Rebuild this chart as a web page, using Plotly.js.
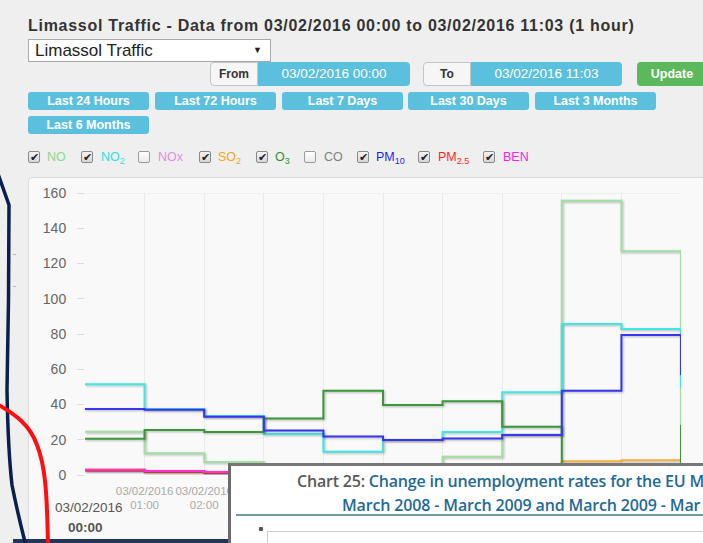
<!DOCTYPE html>
<html><head><meta charset="utf-8">
<script src="https://cdn.plot.ly/plotly-3.0.1.min.js"></script>
<style>
html,body{margin:0;padding:0;}
body{width:703px;height:543px;overflow:hidden;background:#efefef;position:relative;font-family:"Liberation Sans",Arial,sans-serif;}
.abs{position:absolute;box-sizing:border-box;}
#title{left:28px;top:16px;font-size:16px;line-height:20px;font-weight:bold;color:#333;letter-spacing:0.72px;white-space:nowrap;}
#sel{left:28px;top:39px;width:243px;height:23px;background:#fff;border:1px solid #a9a9a9;font-size:17px;line-height:21px;padding-left:6px;color:#222;}
#sel .arr{position:absolute;right:8px;top:0;font-size:9px;color:#222;}
.lbtn{background:#f6f6f6;border:1px solid #c4c4c4;border-radius:4px 0 0 4px;font-weight:bold;font-size:12px;color:#333;text-align:center;line-height:22px;height:24px;top:62px;}
.dfield{background:#5bc0de;border-radius:0 4px 4px 0;color:#fff;font-size:13.5px;text-align:center;line-height:24px;height:24px;top:62px;}
#upd{left:637px;top:62px;width:70px;height:24px;background:#5cb85c;border-radius:4px;color:#fff;font-weight:bold;font-size:12.5px;text-align:center;line-height:24px;}
.rbtn{background:#5bc0de;border-radius:3px;color:#fff;font-weight:bold;font-size:12.5px;text-align:center;line-height:18px;height:18px;width:121px;}
.cb{top:151px;width:12px;height:12px;border:1px solid #8a8a8a;border-radius:2px;background:linear-gradient(#f4f4f4,#d6d6d6);font-size:11px;line-height:11px;text-align:center;color:#222;}
.cb.un{background:linear-gradient(#fff,#eaeaea);border-color:#9a9a9a;}
.lab{top:150px;font-size:12.5px;line-height:14px;white-space:nowrap;}
.lab sub{font-size:9px;vertical-align:-3px;line-height:0;}
#panel{left:28px;top:177px;width:690px;height:400px;background:#f9f9f9;border:1px solid #dcdcdc;border-radius:4px;}
#chart{left:28px;top:178px;width:675px;height:365px;}
#chart .scatterlayer path.js-line{filter:drop-shadow(1px 1px 1px rgba(0,0,0,0.28));}
#ov{left:0;top:0;z-index:5;pointer-events:none;}
#inset{left:228px;top:463px;width:490px;height:90px;background:#fff;border-left:3px solid #6b6b6b;border-top:3px solid #777;z-index:6;overflow:hidden;font-family:"Open Sans",sans-serif;font-weight:600;font-size:16px;white-space:nowrap;}
#inset .l1{position:absolute;left:66px;top:4px;color:#1f6a98;letter-spacing:-0.2px;}
#inset .l1 span{color:#595959;}
#inset .l2{position:absolute;left:111px;top:28px;color:#1f6a98;letter-spacing:-0.15px;}
#inset .hr{position:absolute;left:5px;right:0;top:48px;height:2px;background:#6f97aa;}
#inset .mk{position:absolute;left:28px;top:61px;width:4px;height:4px;background:#555;border-radius:1px;}
#inset .bx{position:absolute;left:36px;top:65px;width:600px;height:60px;border-left:1px solid #cfcfcf;border-top:1px solid #cfcfcf;}
</style></head>
<body>
<div class="abs" id="title">Limassol Traffic - Data from 03/02/2016 00:00 to 03/02/2016 11:03 (1 hour)</div>
<div class="abs" id="sel">Limassol Traffic<span class="arr">&#9660;</span></div>
<div class="abs lbtn" style="left:210px;width:48px;">From</div>
<div class="abs dfield" style="left:258px;width:152px;">03/02/2016 00:00</div>
<div class="abs lbtn" style="left:423px;width:48px;">To</div>
<div class="abs dfield" style="left:471px;width:151px;">03/02/2016 11:03</div>
<div class="abs" id="upd">Update</div>
<div class="abs rbtn" style="left:28px;top:92px;">Last 24 Hours</div>
<div class="abs rbtn" style="left:155px;top:92px;">Last 72 Hours</div>
<div class="abs rbtn" style="left:282px;top:92px;">Last 7 Days</div>
<div class="abs rbtn" style="left:408px;top:92px;">Last 30 Days</div>
<div class="abs rbtn" style="left:535px;top:92px;">Last 3 Months</div>
<div class="abs rbtn" style="left:28px;top:116px;">Last 6 Months</div>

<div class="abs cb" style="left:28px;">&#10004;</div><div class="abs lab" style="left:47px;color:#8fd88f;">NO</div>
<div class="abs cb" style="left:81px;">&#10004;</div><div class="abs lab" style="left:101px;color:#2fe0e0;">NO<sub>2</sub></div>
<div class="abs cb un" style="left:138px;"></div><div class="abs lab" style="left:158px;color:#e38be3;">NOx</div>
<div class="abs cb" style="left:199px;">&#10004;</div><div class="abs lab" style="left:218px;color:#f5a623;">SO<sub>2</sub></div>
<div class="abs cb" style="left:256px;">&#10004;</div><div class="abs lab" style="left:275px;color:#2f8f2f;">O<sub>3</sub></div>
<div class="abs cb un" style="left:304px;"></div><div class="abs lab" style="left:324px;color:#808080;">CO</div>
<div class="abs cb" style="left:357px;">&#10004;</div><div class="abs lab" style="left:376px;color:#1f1fe8;">PM<sub>10</sub></div>
<div class="abs cb" style="left:418px;">&#10004;</div><div class="abs lab" style="left:438px;color:#ff1f1f;">PM<sub>2.5</sub></div>
<div class="abs cb" style="left:483px;">&#10004;</div><div class="abs lab" style="left:503px;color:#ff22dd;">BEN</div>

<div class="abs" id="panel"></div>
<div class="abs" id="chart"></div>

<svg class="abs" id="ov" width="703" height="543">
  <rect x="13" y="254" width="3" height="1" fill="#bbb"/>
  <rect x="13" y="286" width="3" height="1" fill="#bbb"/>
  <rect x="13" y="539" width="216" height="4" fill="#24355a"/>
  <path d="M -3 171 L 9 205 L 8.5 300 L 7 390 Q 8 450 12 485 Q 18 515 26 546" fill="none" stroke="#0b1f4e" stroke-width="3.5"/>
  <path d="M -3 404 C 15 414 30 425 37 445 C 45 465 47 490 48 546" fill="none" stroke="#ff1010" stroke-width="4"/>
</svg>

<div class="abs" id="inset">
  <div class="l1"><span>Chart 25:</span> Change in unemployment rates for the EU M</div>
  <div class="l2">March 2008 - March 2009 and March 2009 - Mar</div>
  <div class="hr"></div>
  <div class="mk"></div>
  <div class="bx"></div>
</div>

<script>
// hours of the day (03/02/2016)
const hourLabels = ["00:00","01:00","02:00","03:00","04:00","05:00","06:00","07:00","08:00","09:00","10:00"];
const hours = [0,1,2,3,4,5,6,7,8,9,10];
const dateLabel = "03/02/2016";
// tick labels visible in the picture (later ones are covered by the inset)
const visibleTicks = [1,2];

// pollutant values, one per hour
const NO    = [24.6, 12.3, 7.4, 5, 4, 4, 10.4, 22.8, 155.6, 127, 26];
const NO2   = [51.5, 37.5, 33.5, 23.3, 13.2, 19.9, 24.4, 47, 85.7, 82.8, 50];
const SO2   = [3.0, 2.3, 1.7, 4, 5, 5, 5, 6, 7.8, 8.3, 8];
const O3    = [20.6, 25.5, 24.4, 32, 47.8, 39.7, 41.8, 27.4, 3, 3, 28.4];
const PM10  = [37.5, 37, 33, 25.3, 21.8, 19.9, 20.7, 22.7, 47.8, 79.4, 56.7];
const PM25  = [2.5, 1.9, 1.3, 2, 2, 2, 2, 2, 3, 3, 3];
const BEN   = [3.0, 2.3, 1.7, 1.5, 1.5, 1.5, 1.5, 1.5, 1.5, 1.5, 1.5];

const series = [
  {name:"NO", y:NO, color:"#a3dea3"},
  {name:"NO2", y:NO2, color:"#3ee6e6"},
  {name:"SO2", y:SO2, color:"#f5b041"},
  {name:"O3", y:O3, color:"#3a983a"},
  {name:"PM10", y:PM10, color:"#3636ee"},
  {name:"PM2.5", y:PM25, color:"#ff2020"},
  {name:"BEN", y:BEN, color:"#ff33cc"}
];

const traces = series.map(s => ({
  type:"scatter", mode:"lines", name:s.name, x:hours, y:s.y,
  line:{shape:"hv", color:s.color, width:2}, hoverinfo:"skip"
}));

const ticktext = hourLabels.map((h,i) => visibleTicks.includes(i) ? dateLabel + "<br>" + h : "");

const layout = {
  width:675, height:365,
  margin:{l:57, r:22, t:15, b:68},
  paper_bgcolor:"rgba(0,0,0,0)",
  plot_bgcolor:"#f9f9f9",
  showlegend:false,
  font:{family:"Liberation Sans, Arial, sans-serif"},
  xaxis:{
    range:[0,10], tickvals:hours, ticktext:ticktext,
    showgrid:true, gridcolor:"#ebebeb", gridwidth:1,
    zeroline:false, showline:false, ticks:"",
    ticklabelstandoff:7,
    tickfont:{size:11.5, color:"#aaaaaa"}, tickangle:0, fixedrange:true
  },
  yaxis:{
    range:[0,160], tickvals:[0,20,40,60,80,100,120,140,160],
    showgrid:false, zeroline:false, showline:false,
    ticks:"outside", ticklen:7, tickcolor:"#dcdcdc", tickwidth:1,
    ticklabelstandoff:8,
    tickfont:{size:14, color:"#666"}, fixedrange:true
  },
  shapes:[{type:"line", xref:"x", yref:"y", x0:0, x1:10, y0:160, y1:160, line:{color:"#e6e6e6", width:1}, layer:"below"}],
  annotations:[
    {xref:"x", yref:"paper", x:0, y:0, xshift:4, yshift:-32, text:dateLabel, showarrow:false, font:{size:13.5, color:"#555"}, yanchor:"middle"},
    {xref:"x", yref:"paper", x:0, y:0, xshift:0, yshift:-52, text:"<b>"+hourLabels[0]+"</b>", showarrow:false, font:{size:13.5, color:"#555"}, yanchor:"middle"}
  ]
};

Plotly.newPlot("chart", traces, layout, {staticPlot:true, displayModeBar:false});
</script>
</body></html>
